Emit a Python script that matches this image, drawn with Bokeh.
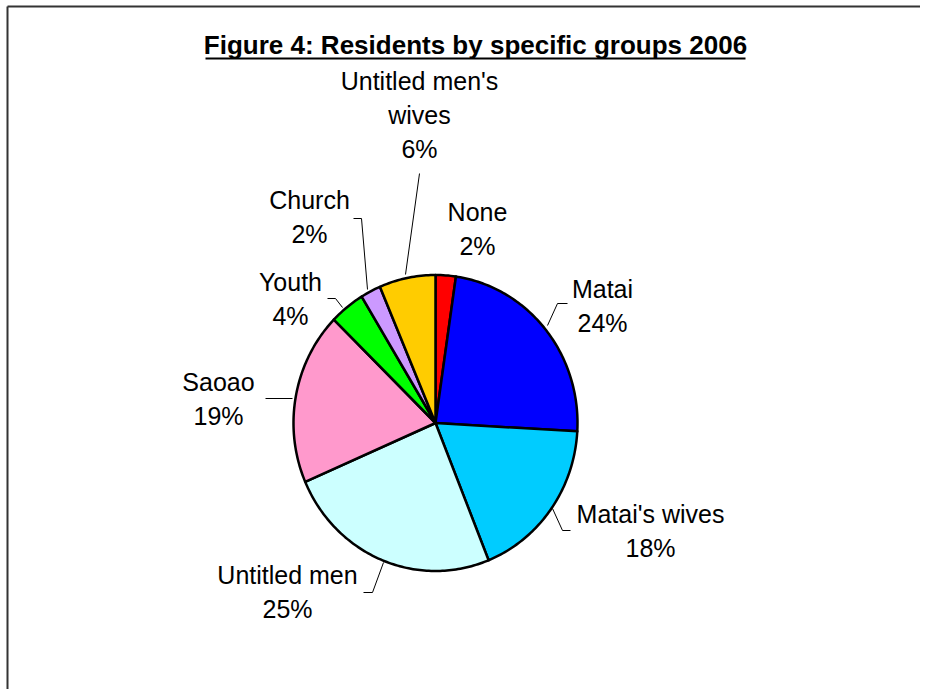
import numpy as np
from bokeh.plotting import figure
from bokeh.models import Range1d, ColumnDataSource
from bokeh.core.properties import value
from bokeh.embed import file_html
from bokeh.resources import INLINE

# ---- data ----
categories = ["None", "Matai", "Matai's wives", "Untitled men", "Saoao",
              "Youth", "Church", "Untitled men's wives"]
shares = [2.3, 23.6, 18.0, 24.6, 18.8, 4.0, 2.3, 6.4]
colors = ["#FF0000", "#0000FF", "#00CCFF", "#CCFFFF", "#FF99CC",
          "#00FF00", "#CC99FF", "#FFCC00"]
title_text = "Figure 4: Residents by specific groups 2006"

# label text lines (name lines + percentage)
label_lines = [["None"], ["Matai"], ["Matai's wives"], ["Untitled men"], ["Saoao"],
               ["Youth"], ["Church"], ["Untitled men's", "wives"]]
# layout: label centre x, first baseline y (screen px)
label_pos = [(477, 220), (602, 297), (650, 522), (287, 583), (218, 390),
             (290, 290), (309, 208), (419, 89)]
line_gap = 34
text_shift = -9
leaders = [None,
           ([567, 557, 547], [303, 303, 325]),
           ([570, 562, 552], [530, 530, 508]),
           ([363, 372, 383], [592, 592, 562]),
           ([265, 292], [398, 398]),
           ([327, 335, 342], [298, 298, 307]),
           ([353, 361, 367], [218, 218, 289]),
           ([419, 405], [173, 274])]

W, H = 920, 689
p = figure(width=W, height=H, output_backend="svg", toolbar_location=None,
           x_range=Range1d(0, W), y_range=Range1d(H, 0),
           min_border=0, outline_line_color=None)
p.axis.visible = False
p.grid.visible = False
p.background_fill_color = "white"
p.border_fill_color = "white"

# frame (left and top edges visible)
p.line([7, 7], [H + 5, 6], line_color="#333333", line_width=2)
p.line([7, W + 5], [6, 6], line_color="#333333", line_width=2)

# title
p.text(x=[475], y=[53 + text_shift], text=[title_text], text_align="center",
       text_baseline="alphabetic", text_font=value("Liberation Sans"),
       text_font_style="bold", text_font_size="26px", text_color="black")
p.line([205, 745], [58, 58], line_color="black", line_width=2)

# pie (slightly elliptical)
cx, cy, a, b = 435, 422.5, 142, 148
total = sum(shares)
cum = np.cumsum([0] + shares) / total * 2 * np.pi
xs, ys = [], []
for i in range(len(shares)):
    t = np.linspace(cum[i], cum[i + 1], max(4, int(shares[i] * 4)))
    px = np.concatenate([[cx], cx + a * np.sin(t), [cx]])
    py = np.concatenate([[cy], cy - b * np.cos(t), [cy]])
    xs.append(px.tolist())
    ys.append(py.tolist())
src = ColumnDataSource(dict(xs=xs, ys=ys, color=colors, name=categories))
p.patches("xs", "ys", source=src, fill_color="color", line_color="black",
          line_width=2.5, line_join="round")

# labels
for i, cat in enumerate(categories):
    lx, ly = label_pos[i]
    lines = label_lines[i] + [f"{round(shares[i] / total * 100)}%"]
    for k, s in enumerate(lines):
        p.text(x=[lx], y=[ly + k * line_gap + text_shift], text=[s],
               text_align="center", text_baseline="alphabetic",
               text_font=value("Liberation Sans"),
               text_font_size="25px", text_color="black")
    if leaders[i] is not None:
        p.line(leaders[i][0], leaders[i][1], line_color="black", line_width=1)

open("out.html", "w").write(file_html(p, INLINE))
